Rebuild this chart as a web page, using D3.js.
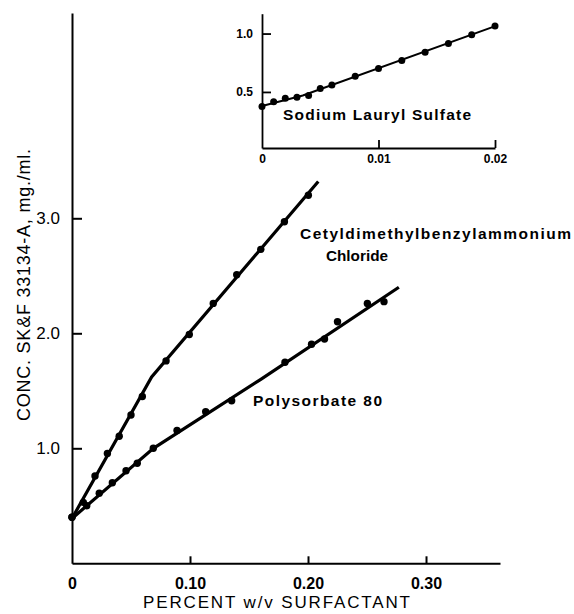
<!DOCTYPE html>
<html>
<head>
<meta charset="utf-8">
<script src="https://cdn.jsdelivr.net/npm/d3@7"></script>
<style>
  html, body { margin: 0; padding: 0; background: #fff; }
  svg { display: block; }
  text { font-family: "Liberation Sans", Arial, Helvetica, sans-serif; fill: #000; }
</style>
</head>
<body>
<svg id="chart" width="574" height="614"></svg>
<script>
// ---------- DATA ----------
// Main chart: Cetyldimethylbenzylammonium Chloride
const cetylX = [0, 0.0096, 0.0195, 0.030, 0.040, 0.050, 0.0596, 0.0797, 0.0994, 0.1197, 0.1396, 0.160, 0.180, 0.2003];
const cetylY = [0.40, 0.53, 0.76, 0.955, 1.105, 1.29, 1.45, 1.76, 1.99, 2.26, 2.51, 2.73, 2.97, 3.20];
const cetylFitX = [0, 0.0675, 0.2087];
const cetylFitY = [0.39, 1.62, 3.32];

// Main chart: Polysorbate 80
const polyX = [0, 0.0125, 0.0231, 0.0342, 0.0458, 0.0553, 0.0689, 0.089, 0.1133, 0.1353, 0.1805, 0.203, 0.214, 0.225, 0.2503, 0.2644];
const polyY = [0.40, 0.50, 0.61, 0.70, 0.805, 0.87, 1.00, 1.155, 1.318, 1.414, 1.748, 1.905, 1.95, 2.10, 2.26, 2.275];
const polyFitX = [0, 0.069, 0.16, 0.277];
const polyFitY = [0.39, 1.00, 1.60, 2.40];

// Inset: Sodium Lauryl Sulfate
const slsX = [0, 0.001, 0.002, 0.003, 0.004, 0.005, 0.006, 0.008, 0.010, 0.012, 0.014, 0.016, 0.018, 0.020];
const slsY = [0.375, 0.415, 0.445, 0.455, 0.47, 0.53, 0.56, 0.635, 0.70, 0.77, 0.84, 0.915, 0.99, 1.065];
const slsFitX = [0, 0.0035, 0.0202];
const slsFitY = [0.38, 0.47, 1.07];

// Ticks
const mainXTicks = [0, 0.1, 0.2, 0.3];
const mainXTickLabels = ["0", "0.10", "0.20", "0.30"];
const mainYTicks = [1, 2, 3];
const mainYTickLabels = ["1.0", "2.0", "3.0"];
const insetXTicks = [0, 0.01, 0.02];
const insetXTickLabels = ["0", "0.01", "0.02"];
const insetYTicks = [0.5, 1.0];
const insetYTickLabels = ["0.5", "1.0"];

// Text
const xTitle = "PERCENT w/v SURFACTANT";
const yTitle = "CONC. SK&F 33134-A, mg./ml.";
const cetylLabel1 = "Cetyldimethylbenzylammonium";
const cetylLabel2 = "Chloride";
const polyLabel = "Polysorbate 80";
const slsLabel = "Sodium Lauryl Sulfate";

// ---------- DRAW ----------
const svg = d3.select("#chart");

const x = d3.scaleLinear().domain([0, 0.3627]).range([72, 500]);
const y = d3.scaleLinear().domain([0, 4.785]).range([563.3, 13]);

const ix = d3.scaleLinear().domain([0, 0.02]).range([262, 495]);
const iy = d3.scaleLinear().domain([0.02, 1.17]).range([148, 13.7]);

function styleAxis(g, sw, fs, fw) {
  g.select(".domain").attr("stroke", "#000").attr("stroke-width", sw);
  g.selectAll(".tick line").attr("stroke", "#000").attr("stroke-width", sw);
  g.selectAll(".tick text")
    .attr("font-family", "'Liberation Sans', Arial, sans-serif")
    .attr("font-size", fs)
    .attr("font-weight", fw)
    .attr("fill", "#000");
}

// Main axes
const gx = svg.append("g").attr("transform", `translate(0,${y(0)})`)
  .call(d3.axisBottom(x).tickValues(mainXTicks)
    .tickFormat((d, i) => mainXTickLabels[i])
    .tickSizeInner(-7).tickSizeOuter(0).tickPadding(14));
styleAxis(gx, 2, 16, "bold");
gx.selectAll(".tick").filter(d => d === 0).select("line").remove();

const gy = svg.append("g").attr("transform", `translate(${x(0)},0)`)
  .call(d3.axisLeft(y).tickValues(mainYTicks)
    .tickFormat((d, i) => mainYTickLabels[i])
    .tickSizeInner(-10).tickSizeOuter(0).tickPadding(12));
styleAxis(gy, 2, 17, "normal");

// Axis titles
svg.append("text")
  .attr("x", 143).attr("y", 608)
  .attr("font-size", 17)
  .attr("textLength", 267).attr("lengthAdjust", "spacing")
  .text(xTitle);

svg.append("text")
  .attr("transform", "translate(30,421) rotate(-90)")
  .attr("x", 0).attr("y", 0)
  .attr("font-size", 18)
  .attr("textLength", 272).attr("lengthAdjust", "spacing")
  .text(yTitle);

// Main fit lines
const line = d3.line().x(d => x(d[0])).y(d => y(d[1]));
svg.append("path")
  .datum(d3.zip(cetylFitX, cetylFitY))
  .attr("d", line).attr("fill", "none").attr("stroke", "#000").attr("stroke-width", 3.2);
svg.append("path")
  .datum(d3.zip(polyFitX, polyFitY))
  .attr("d", line).attr("fill", "none").attr("stroke", "#000").attr("stroke-width", 3.2);

// Main points
svg.append("g").selectAll("circle")
  .data(d3.zip(cetylX, cetylY)).join("circle")
  .attr("cx", d => x(d[0])).attr("cy", d => y(d[1])).attr("r", 3.7).attr("fill", "#000");
svg.append("g").selectAll("circle")
  .data(d3.zip(polyX, polyY)).join("circle")
  .attr("cx", d => x(d[0])).attr("cy", d => y(d[1])).attr("r", 3.7).attr("fill", "#000");

// Labels
svg.append("text").attr("x", 300).attr("y", 239)
  .attr("font-size", 15.5).attr("font-weight", "bold")
  .attr("textLength", 271).attr("lengthAdjust", "spacing")
  .text(cetylLabel1);
svg.append("text").attr("x", 326).attr("y", 261)
  .attr("font-size", 15.5).attr("font-weight", "bold")
  .attr("textLength", 62).attr("lengthAdjust", "spacingAndGlyphs")
  .text(cetylLabel2);
svg.append("text").attr("x", 253).attr("y", 406)
  .attr("font-size", 15.5).attr("font-weight", "bold")
  .attr("textLength", 129).attr("lengthAdjust", "spacing")
  .text(polyLabel);

// Inset axes
const igx = svg.append("g").attr("transform", `translate(0,${iy(0.02)})`)
  .call(d3.axisBottom(ix).tickValues(insetXTicks)
    .tickFormat((d, i) => insetXTickLabels[i])
    .tickSizeInner(-8).tickSizeOuter(0).tickPadding(6));
styleAxis(igx, 1.8, 12, "bold");
igx.selectAll(".tick").filter(d => d === 0).select("line").remove();

const igy = svg.append("g").attr("transform", `translate(${ix(0)},0)`)
  .call(d3.axisLeft(iy).tickValues(insetYTicks)
    .tickFormat((d, i) => insetYTickLabels[i])
    .tickSizeInner(-9).tickSizeOuter(0).tickPadding(9));
styleAxis(igy, 1.8, 12, "bold");

// Inset line + points
const iline = d3.line().x(d => ix(d[0])).y(d => iy(d[1]));
svg.append("path")
  .datum(d3.zip(slsFitX, slsFitY))
  .attr("d", iline).attr("fill", "none").attr("stroke", "#000").attr("stroke-width", 2);
svg.append("g").selectAll("circle")
  .data(d3.zip(slsX, slsY)).join("circle")
  .attr("cx", d => ix(d[0])).attr("cy", d => iy(d[1])).attr("r", 3.5).attr("fill", "#000");

svg.append("text").attr("x", 283).attr("y", 120)
  .attr("font-size", 15.5).attr("font-weight", "bold")
  .attr("textLength", 188).attr("lengthAdjust", "spacing")
  .text(slsLabel);
</script>
</body>
</html>
